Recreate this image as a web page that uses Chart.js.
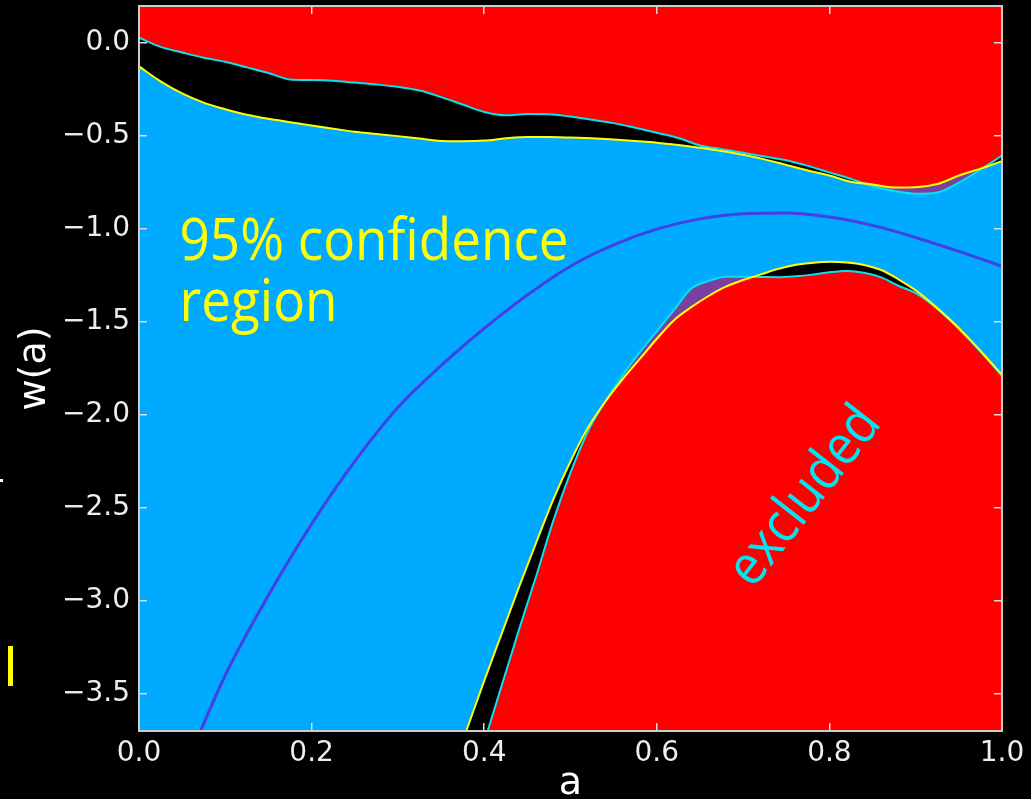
<!DOCTYPE html>
<html>
<head>
<meta charset="utf-8">
<script src="https://cdn.jsdelivr.net/npm/chart.js@4.4.1/dist/chart.umd.min.js"></script>
<style>
  html, body { margin:0; padding:0; background:#000; }
  #wrap { width:1031px; height:799px; }
</style>
</head>
<body>
<div id="wrap"><canvas id="wChart" width="1031" height="799"></canvas></div>
<script>
// w(a) constraints: upper and lower edges of the two contours, plus the best fit curve
const aUpper = [0,0.025,0.05,0.075,0.1,0.125,0.15,0.175,0.2,0.225,0.25,0.275,0.3,0.325,0.35,0.375,0.4,0.425,0.45,0.475,0.5,0.525,0.55,0.575,0.6,0.625,0.65,0.675,0.7,0.725,0.75,0.775,0.8,0.825,0.85,0.875,0.9,0.925,0.95,0.975,1.0];
const cyanUpper = [0.03,-0.02,-0.05,-0.078,-0.1,-0.13,-0.16,-0.195,-0.198,-0.202,-0.212,-0.222,-0.235,-0.255,-0.29,-0.33,-0.37,-0.388,-0.381,-0.382,-0.395,-0.412,-0.43,-0.455,-0.482,-0.51,-0.55,-0.57,-0.59,-0.61,-0.63,-0.66,-0.695,-0.73,-0.77,-0.795,-0.81,-0.803,-0.75,-0.68,-0.605];
const yellowUpper = [-0.125,-0.205,-0.27,-0.32,-0.355,-0.385,-0.407,-0.425,-0.443,-0.46,-0.476,-0.488,-0.5,-0.513,-0.526,-0.527,-0.524,-0.512,-0.505,-0.505,-0.508,-0.512,-0.518,-0.526,-0.535,-0.548,-0.563,-0.58,-0.6,-0.625,-0.655,-0.685,-0.712,-0.745,-0.76,-0.776,-0.775,-0.758,-0.712,-0.675,-0.635];

const aLower = [0.36,0.38,0.4,0.42,0.44,0.46,0.48,0.5,0.52,0.54,0.56,0.58,0.6,0.62,0.64,0.66,0.68,0.7,0.72,0.74,0.76,0.78,0.8,0.82,0.84,0.86,0.88,0.9,0.92,0.94,0.96,0.98,1.0];
const yellowLower = [-3.95,-3.69,-3.43,-3.18,-2.93,-2.69,-2.455,-2.25,-2.07,-1.93,-1.81,-1.7,-1.59,-1.49,-1.42,-1.36,-1.31,-1.274,-1.245,-1.215,-1.193,-1.182,-1.176,-1.18,-1.193,-1.22,-1.27,-1.33,-1.405,-1.488,-1.58,-1.68,-1.784];
const cyanLower = [-4.35,-4.06,-3.76,-3.46,-3.16,-2.87,-2.57,-2.31,-2.09,-1.93,-1.79,-1.665,-1.55,-1.435,-1.32,-1.28,-1.256,-1.257,-1.258,-1.259,-1.254,-1.245,-1.232,-1.225,-1.235,-1.26,-1.305,-1.345,-1.41,-1.492,-1.585,-1.685,-1.79];

const aFit = [0,0.05,0.1,0.15,0.2,0.25,0.3,0.35,0.4,0.45,0.5,0.55,0.6,0.65,0.7,0.75,0.8,0.85,0.9,0.95,1.0];
const bestFit = [-4.54,-3.94,-3.4,-2.97,-2.587,-2.25,-1.96,-1.735,-1.535,-1.355,-1.2,-1.085,-1.0,-0.945,-0.917,-0.913,-0.935,-0.98,-1.045,-1.12,-1.2];

const xTicks = [0,0.2,0.4,0.6,0.8,1.0];
const wTicks = [-3.5,-3,-2.5,-2,-1.5,-1,-0.5,0];

const RED = '#ff0000', BLUE = '#00aaff', PURPLE = '#7a3f9f', CYAN = '#00e5f0', YELLOW = '#ffff00', FIT = '#4141e6';
const TICK = '#eeeeee', NONE = 'rgba(0,0,0,0)';

function pts(xs, ys){ return xs.map((x,i)=>({x, y: ys[i]})); }
function fmt(v){ return (v < 0 ? '\u2212' : '') + Math.abs(v).toFixed(1); }
// keep the plot box where the layout padding puts it
function noEdge(s){ s.paddingTop = 0; s.paddingBottom = 0; s.paddingLeft = 0; s.paddingRight = 0; }

const tickFont = {family:'DejaVu Sans', size:28};
const gridOpts = {drawOnChartArea:false, drawTicks:true, tickLength:-8, color:'#dddddd', lineWidth:1.5, z:1};
const borderOpts = {color:'#cccccc', width:2, z:1};

// text drawn a little taller than the font, closer to the hand-written look
function tallText(ctx, txt, px, py, sy){
  ctx.save();
  ctx.translate(px, py);
  ctx.scale(1, sy);
  ctx.fillText(txt, 0, 0);
  ctx.restore();
}

const notes = {
  id: 'notes',
  beforeDraw(chart){
    const {ctx, chartArea:a} = chart;
    ctx.save();
    ctx.fillStyle = RED;
    ctx.fillRect(a.left, a.top, a.right - a.left, a.bottom - a.top);
    ctx.restore();
  },
  afterDatasetsDraw(chart){
    const {ctx, scales:{x, y}} = chart;
    ctx.save();
    ctx.font = '53px "Comic Sans MS", "Open Sans", sans-serif';
    ctx.fillStyle = YELLOW;
    ctx.textAlign = 'left';
    ctx.textBaseline = 'alphabetic';
    tallText(ctx, '95% confidence', x.getPixelForValue(0.047), y.getPixelForValue(-1.167), 1.12);
    tallText(ctx, 'region', x.getPixelForValue(0.047), y.getPixelForValue(-1.495), 1.12);
    ctx.translate(x.getPixelForValue(0.772), y.getPixelForValue(-2.44));
    ctx.rotate(-52 * Math.PI / 180);
    ctx.font = '50px "Comic Sans MS", "Open Sans", sans-serif';
    ctx.fillStyle = CYAN;
    ctx.textAlign = 'center';
    ctx.textBaseline = 'middle';
    tallText(ctx, 'excluded', 0, 0, 1.12);
    ctx.restore();
  },
  afterDraw(chart){
    // slide leftovers at the far left
    const ctx = chart.ctx;
    ctx.save();
    ctx.fillStyle = YELLOW;
    ctx.fillRect(8, 646, 5, 40);
    ctx.fillStyle = '#ffffff';
    ctx.fillRect(0, 479, 3, 3);
    ctx.restore();
  }
};

const ctx = document.getElementById('wChart').getContext('2d');
new Chart(ctx, {
  type: 'line',
  data: {
    datasets: [
      // fills (drawn first, highest order first)
      {data: pts(aUpper, yellowUpper), fill:'start', backgroundColor:BLUE, borderColor:NONE, borderWidth:0, order:14},
      {data: pts(aUpper, cyanUpper), fill:{target:0, above:'#000000', below:PURPLE}, borderColor:NONE, borderWidth:0, order:13},
      {data: pts(aLower, yellowLower), fill:'start', backgroundColor:RED, borderColor:NONE, borderWidth:0, order:12},
      {data: pts(aLower, cyanLower), fill:{target:2, above:PURPLE, below:'#000000'}, borderColor:NONE, borderWidth:0, order:11},
      // contour edges
      {data: pts(aUpper, cyanUpper), borderColor:CYAN, borderWidth:2, fill:false, order:4},
      {data: pts(aUpper, yellowUpper), borderColor:YELLOW, borderWidth:2, fill:false, order:3},
      {data: pts(aLower, cyanLower), borderColor:CYAN, borderWidth:2, fill:false, order:2},
      {data: pts(aLower, yellowLower), borderColor:YELLOW, borderWidth:2, fill:false, order:1},
      // best fit
      {data: pts(aFit, bestFit), borderColor:FIT, borderWidth:3, fill:false, order:0}
    ]
  },
  options: {
    responsive: false,
    animation: false,
    events: [],
    layout: {padding: {left:0, top:6, right:29, bottom:0}},
    elements: {point: {radius:0}, line: {cubicInterpolationMode:'monotone'}},
    plugins: {
      legend: {display:false},
      tooltip: {enabled:false},
      filler: {drawTime:'beforeDatasetsDraw'}
    },
    scales: {
      x: {
        type:'linear', position:'bottom', min:0, max:1,
        afterBuildTicks: s => { s.ticks = xTicks.map(v=>({value:v})); },
        afterFit: s => { s.height = 68; noEdge(s); },
        ticks: {color:TICK, font:tickFont, padding:14, maxRotation:0, autoSkip:false, callback: v => fmt(v)},
        grid: gridOpts,
        border: borderOpts,
        title: {display:true, text:'a', color:'#ffffff', font:{family:'DejaVu Sans', size:38, lineHeight:0.8}, padding:0}
      },
      x2: {
        type:'linear', position:'top', min:0, max:1,
        afterBuildTicks: s => { s.ticks = xTicks.map(v=>({value:v})); },
        afterFit: s => { s.height = 0; noEdge(s); },
        ticks: {display:false},
        grid: gridOpts,
        border: borderOpts
      },
      y: {
        type:'linear', position:'left', min:-3.7, max:0.2,
        afterBuildTicks: s => { s.ticks = wTicks.map(v=>({value:v})); },
        afterFit: s => { s.width = 139; noEdge(s); },
        ticks: {color:TICK, font:tickFont, padding:17, autoSkip:false, callback: v => fmt(v)},
        grid: gridOpts,
        border: borderOpts,
        title: {display:true, text:'w(a)', color:'#ffffff', font:{family:'DejaVu Sans', size:38, lineHeight:0.8}, padding:{top:20, bottom:0}}
      },
      y2: {
        type:'linear', position:'right', min:-3.7, max:0.2,
        afterBuildTicks: s => { s.ticks = wTicks.map(v=>({value:v})); },
        afterFit: s => { s.width = 0; noEdge(s); },
        ticks: {display:false},
        grid: gridOpts,
        border: borderOpts
      }
    }
  },
  plugins: [notes]
});
</script>
</body>
</html>
